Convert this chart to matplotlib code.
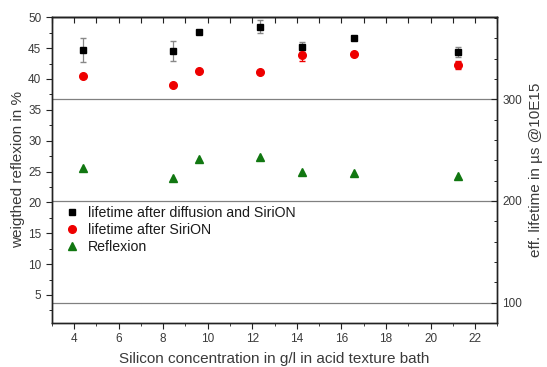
import numpy as np
import matplotlib
matplotlib.use("Agg")
import matplotlib.pyplot as plt
from matplotlib.ticker import MultipleLocator, NullFormatter
from matplotlib.lines import Line2D

plt.rcParams['font.family'] = ['Liberation Sans', 'DejaVu Sans']

# Silicon concentration in g/l
conc = [4.4, 8.42, 9.6, 12.33, 14.24, 16.56, 21.24]

# effective lifetime (right axis, us)
life_diff = [348.5, 347.5, 365.9, 371.4, 351.1, 360.0, 346.5]
life_diff_err = [11.5, 10.0, 1.0, 6.5, 5.0, 1.0, 5.0]
life_siri = [323.2, 314.4, 327.8, 327.1, 343.3, 344.8, 334.0]
life_siri_err = [1.0, 1.0, 1.0, 1.0, 5.5, 1.0, 4.0]

# weighted reflexion (left axis, %)
reflexion = [25.5, 23.9, 27.0, 27.3, 25.0, 24.8, 24.3]

labels = ['lifetime after diffusion and SiriON', 'lifetime after SiriON', 'Reflexion']

fig = plt.figure(figsize=(5.47, 3.67), dpi=100)
ax = fig.add_axes([0.0945, 0.1207, 0.815, 0.8322])
ax2 = ax.twinx()

txt = '#3a3a3a'
red = '#ee0000'
green = '#117711'

# right axis grid lines
for yv in [100, 200, 300]:
    ax2.axhline(yv, color='#808080', lw=0.9, zorder=0)

ax2.errorbar(conc, life_diff, yerr=life_diff_err, fmt='s', color='black',
             ms=5, ecolor='#888888', elinewidth=0.9, capsize=2.5, zorder=3)
ax2.errorbar(conc, life_siri, yerr=life_siri_err, fmt='o', color=red,
             ms=5.5, ecolor=red, elinewidth=0.9, capsize=2.0, zorder=3)
ax.plot(conc, reflexion, '^', color=green, ms=6, zorder=3)

ax.set_xlim(3, 23)
ax.set_ylim(0.5, 50)
ax2.set_ylim(80.3, 380.6)

ax.xaxis.set_major_locator(MultipleLocator(2))
ax.xaxis.set_minor_locator(MultipleLocator(1))
ax.set_yticks([5, 10, 15, 20, 25, 30, 35, 40, 45, 50])
ax.yaxis.set_minor_locator(MultipleLocator(2.5))
ax2.yaxis.set_major_locator(MultipleLocator(100))
ax2.yaxis.set_minor_locator(MultipleLocator(20))

ax.tick_params(axis='x', which='both', direction='out', labelsize=8.5,
               colors='#222222', labelcolor=txt)
ax.tick_params(axis='x', which='major', length=4)
ax.tick_params(axis='x', which='minor', length=2.5)
ax.tick_params(axis='y', which='major', direction='out', length=4, labelsize=8.5,
               colors='#222222', labelcolor=txt)
ax.tick_params(axis='y', which='minor', direction='out', length=2.5)
ax2.tick_params(axis='y', which='major', direction='in', length=4, labelsize=8.5,
                colors='#222222', labelcolor=txt)
ax2.tick_params(axis='y', which='minor', direction='in', length=2.5)

# top axis: inward ticks, no labels
top = ax.secondary_xaxis('top')
top.xaxis.set_major_locator(MultipleLocator(1))
top.xaxis.set_major_formatter(NullFormatter())
top.tick_params(axis='x', direction='in', length=4, colors='#222222')

for a in (ax, ax2):
    for s in a.spines.values():
        s.set_linewidth(1.0)
        s.set_color('#222222')
top.spines['top'].set_linewidth(1.0)
top.spines['top'].set_color('#222222')

ax.set_xlabel('Silicon concentration in g/l in acid texture bath', fontsize=11,
              color=txt, labelpad=5)
ax.set_ylabel('weigthed reflexion in %', fontsize=11, color=txt, labelpad=2)
ax2.set_ylabel('eff. lifetime in µs @10E15', fontsize=11, color=txt, labelpad=5)

handles = [Line2D([], [], ls='none', marker='s', color='black', ms=4.5),
           Line2D([], [], ls='none', marker='o', color=red, ms=5.5),
           Line2D([], [], ls='none', marker='^', color=green, ms=6)]
leg = ax.legend(handles, labels, loc='center left', bbox_to_anchor=(0.005, 0.303),
                frameon=False, fontsize=10.2, handlelength=1.2, handletextpad=0.5,
                labelspacing=0.2, borderaxespad=0.3)
for t in leg.get_texts():
    t.set_color('#1a1a1a')

ax.set_zorder(ax2.get_zorder() + 1)
ax.patch.set_visible(False)

fig.savefig('out.png', dpi=100)
